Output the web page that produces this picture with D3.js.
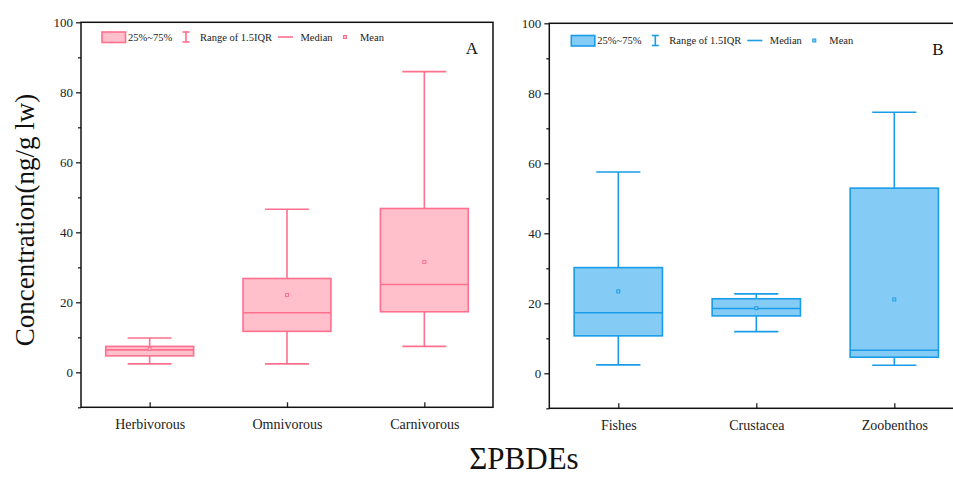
<!DOCTYPE html>
<html>
<head>
<meta charset="utf-8">
<script src="https://cdn.jsdelivr.net/npm/d3@7"></script>
<style>
  body { margin: 0; background: #fff; }
  svg { display: block; }
  svg text { font-family: "Liberation Serif", "Times New Roman", serif; }
</style>
</head>
<body>
<svg id="chart" width="953" height="478"></svg>
<script>
// data
const groupsA = ["Herbivorous", "Omnivorous", "Carnivorous"];
const lowA    = [2.4, 2.4, 7.4];
const q1A     = [4.7, 11.7, 17.3];
const medA    = [6.4, 17.0, 25.1];
const q3A     = [7.4, 26.8, 46.8];
const highA   = [9.8, 46.6, 85.9];
const meanA   = [6.7, 22.1, 31.5];

const groupsB = ["Fishes", "Crustacea", "Zoobenthos"];
const lowB    = [2.4, 11.9, 2.3];
const q1B     = [10.7, 16.4, 4.6];
const medB    = [17.3, 18.5, 6.6];
const q3B     = [30.2, 21.3, 52.9];
const highB   = [57.5, 22.7, 74.6];
const meanB   = [23.4, 18.6, 21.1];

const yTicks = [0, 20, 40, 60, 80, 100];
const yMinor = [-10, 10, 30, 50, 70, 90];
const legendLabels = ["25%~75%", "Range of 1.5IQR", "Median", "Mean"];

const serif = "Liberation Serif, Times New Roman, serif";
const svg = d3.select("#chart");

function panel(opts) {
  const {x0, x1, y0, y1, groups, low, q1, med, q3, high, mean, fill, stroke, tag, legendY, legendX} = opts;
  const g = svg.append("g");
  const x = d3.scalePoint().domain(groups).range([x0, x1]).padding(0.5);
  const y = d3.scaleLinear().domain([-10, 100]).range([y1, y0]);
  const step = x.step();
  const bw = step * 0.64;
  const cw = bw / 2;

  // boxes
  groups.forEach((name, i) => {
    const cx = x(name);
    const b = g.append("g").attr("stroke", stroke).attr("stroke-width", 1.6).attr("fill", "none");
    b.append("line").attr("x1", cx).attr("x2", cx).attr("y1", y(high[i])).attr("y2", y(q3[i]));
    b.append("line").attr("x1", cx).attr("x2", cx).attr("y1", y(q1[i])).attr("y2", y(low[i]));
    b.append("line").attr("x1", cx - cw / 2).attr("x2", cx + cw / 2).attr("y1", y(high[i])).attr("y2", y(high[i]));
    b.append("line").attr("x1", cx - cw / 2).attr("x2", cx + cw / 2).attr("y1", y(low[i])).attr("y2", y(low[i]));
    b.append("rect").attr("x", cx - bw / 2).attr("width", bw)
      .attr("y", y(q3[i])).attr("height", y(q1[i]) - y(q3[i]))
      .attr("fill", fill);
    b.append("line").attr("x1", cx - bw / 2).attr("x2", cx + bw / 2).attr("y1", y(med[i])).attr("y2", y(med[i]));
    b.append("rect").attr("x", cx - 1.5).attr("y", y(mean[i]) - 1.5).attr("width", 3).attr("height", 3)
      .attr("stroke-width", 1).attr("fill", fill);
  });

  // axes
  const ya = g.append("g").attr("transform", `translate(${x0},0)`)
    .call(d3.axisLeft(y).tickValues(yTicks).tickSize(5).tickPadding(3));
  g.append("g").attr("transform", `translate(${x0},0)`)
    .call(d3.axisLeft(y).tickValues(yMinor).tickSize(3).tickFormat(""))
    .select(".domain").remove();
  const xa = g.append("g").attr("transform", `translate(0,${y1})`)
    .call(d3.axisBottom(x).tickSizeInner(-5).tickSizeOuter(0).tickPadding(12));
  [ya, xa].forEach(a => {
    a.attr("font-family", serif);
    a.selectAll("text").attr("fill", "#222");
  });
  ya.attr("font-size", 13);
  xa.attr("font-size", 14);
  g.selectAll(".domain").remove();
  g.selectAll(".tick line").attr("stroke", "#222").attr("stroke-width", 1.3);
  g.append("rect").attr("x", x0).attr("y", y0).attr("width", x1 - x0).attr("height", y1 - y0)
    .attr("fill", "none").attr("stroke", "#111").attr("stroke-width", 1.5);

  // panel letter
  g.append("text").attr("x", opts.tagX).attr("y", opts.tagY).attr("text-anchor", "middle")
    .attr("font-family", serif).attr("font-size", 17).attr("fill", "#111").text(tag);

  // legend
  const lg = g.append("g").attr("transform", `translate(${legendX},${legendY})`)
    .attr("font-family", serif).attr("font-size", 10.5).attr("fill", "#222");
  lg.append("rect").attr("x", 0).attr("y", -5).attr("width", 23.5).attr("height", 10.5)
    .attr("fill", fill).attr("stroke", stroke).attr("stroke-width", 1.6);
  lg.append("text").attr("x", 26).attr("y", 3.5).text(legendLabels[0]);
  const ib = lg.append("g").attr("stroke", stroke).attr("stroke-width", 1.6);
  ib.append("line").attr("x1", 84).attr("x2", 84).attr("y1", -5).attr("y2", 5);
  ib.append("line").attr("x1", 80.5).attr("x2", 87.5).attr("y1", -5).attr("y2", -5);
  ib.append("line").attr("x1", 80.5).attr("x2", 87.5).attr("y1", 5).attr("y2", 5);
  lg.append("text").attr("x", 98).attr("y", 3.5).text(legendLabels[1]);
  lg.append("line").attr("x1", 176).attr("x2", 191).attr("y1", 0).attr("y2", 0)
    .attr("stroke", stroke).attr("stroke-width", 1.6);
  lg.append("text").attr("x", 198.5).attr("y", 3.5).text(legendLabels[2]);
  lg.append("rect").attr("x", 241.5).attr("y", -1.5).attr("width", 3).attr("height", 3)
    .attr("fill", fill).attr("stroke", stroke).attr("stroke-width", 1);
  lg.append("text").attr("x", 258).attr("y", 3.5).text(legendLabels[3]);
}

panel({x0: 81, x1: 493, y0: 22.3, y1: 407.3,
  groups: groupsA, low: lowA, q1: q1A, med: medA, q3: q3A, high: highA, mean: meanA,
  fill: "#ffc0cc", stroke: "#ff6f8e", tag: "A", tagX: 472, tagY: 54,
  legendX: 102, legendY: 37});

panel({x0: 549.3, x1: 963.3, y0: 23.3, y1: 408.3,
  groups: groupsB, low: lowB, q1: q1B, med: medB, q3: q3B, high: highB, mean: meanB,
  fill: "#84ccf5", stroke: "#1a9ce8", tag: "B", tagX: 938, tagY: 55,
  legendX: 571.3, legendY: 40.5});

// axis titles
svg.append("text").attr("transform", "translate(34,220) rotate(-90)")
  .attr("text-anchor", "middle").attr("font-family", serif).attr("font-size", 27).attr("fill", "#111")
  .text("Concentration(ng/g lw)");
svg.append("text").attr("x", 524).attr("y", 469).attr("text-anchor", "middle")
  .attr("font-family", serif).attr("font-size", 31).attr("fill", "#111").text("ΣPBDEs");
</script>
</body>
</html>
